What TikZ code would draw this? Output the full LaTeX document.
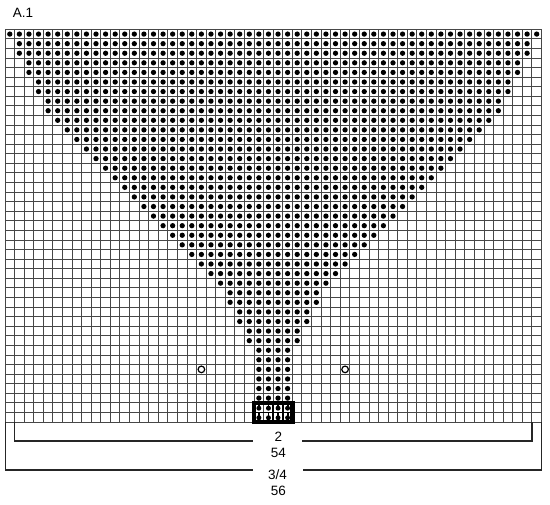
\documentclass[tikz,border=0pt]{standalone}
\usepackage{fontspec}
\setmainfont{Liberation Sans}
\begin{document}
\begin{tikzpicture}[x=1pt,y=-1pt,
  gridline/.style={draw=black!72, line width=1pt},
  purl/.style={fill=black, draw=none},
  yo/.style={draw=black, fill=white, line width=1.2pt},
  bracket/.style={draw=black!85, line width=1.3pt},
  boxline/.style={draw=black, line width=4.4pt},
  innerline/.style={draw=black, line width=1.8pt},
  lbl/.style={font=\fontsize{13.5}{15}\selectfont, inner sep=0pt}]
\useasboundingbox (0,0) rectangle (550,505);
\def\L{5}
\def\T{29.3}
\def\cs{9.58}
% grid
\foreach \i in {0,...,56}
  \draw[gridline] ({\L+\i*\cs},\T) -- ({\L+\i*\cs},{\T+41*\cs});
\foreach \j in {0,...,41}
  \draw[gridline] (\L,{\T+\j*\cs}) -- ({\L+56*\cs},{\T+\j*\cs});
% purl dots
\foreach \r/\s in {1/1,2/2,3/2,4/3,5/3,6/4,7/4,8/5,9/5,10/6,11/7,12/8,13/9,14/10,
  15/11,16/12,17/13,18/14,19/15,20/16,21/17,22/18,23/19,24/20,25/21,26/22,27/23,
  28/24,29/24,30/25,31/25,32/26,33/26,34/27,35/27,36/27,37/27,38/27,39/27} {
  \pgfmathtruncatemacro\e{57-\s}
  \foreach \c in {\s,...,\e}
    \fill[purl] ({\L+(\c-0.5)*\cs},{\T+(\r-0.5)*\cs}) circle (2.65);
}
% yarn overs
\draw[yo] ({\L+20.5*\cs},{\T+35.5*\cs}) circle (3.3);
\draw[yo] ({\L+35.5*\cs},{\T+35.5*\cs}) circle (3.3);
% special boxed cells
\foreach \r in {40,41} {
  \foreach \c in {27,...,30} {
    \draw[innerline] ({\L+(\c-0.5)*\cs},{\T+(\r-1)*\cs}) -- ({\L+(\c-0.5)*\cs},{\T+(\r-0.5)*\cs});
    \fill[purl] ({\L+(\c-0.5)*\cs},{\T+(\r-0.45)*\cs}) circle (2.5);
  }
}
\foreach \c in {28,29} \draw[innerline] ({\L+\c*\cs},{\T+39*\cs}) -- ({\L+\c*\cs},{\T+41*\cs});
\draw[innerline] ({\L+26*\cs},{\T+40*\cs}) -- ({\L+30*\cs},{\T+40*\cs});
\draw[boxline] ({\L+26*\cs},{\T+39*\cs}) rectangle ({\L+30*\cs},{\T+41*\cs});
% labels
\node[lbl] (title) at (23,12.5) {A.1};
\node[lbl] (n2) at (278.5,437) {2};
\node[lbl] (n54) at (278.5,452.5) {54};
\node[lbl] (n34) at (277.5,475) {3/4};
\node[lbl] (n56) at (278.5,491) {56};
% brackets
\coordinate (ia) at (14.6,422);
\coordinate (ib) at (14.6,441);
\coordinate (ic) at (253,441);
\coordinate (id) at (302,441);
\coordinate (ie) at (532,441);
\coordinate (if) at (532,422);
\draw[bracket] (ia) -- (ib) -- (ic);
\draw[bracket] (id) -- (ie) -- (if);
\coordinate (oa) at (5.3,422);
\coordinate (ob) at (5.3,470);
\coordinate (oc) at (253,470);
\coordinate (od) at (303,470);
\coordinate (oe) at (541.7,470);
\coordinate (of) at (541.7,422);
\draw[bracket] (oa) -- (ob) -- (oc);
\draw[bracket] (od) -- (oe) -- (of);
\end{tikzpicture}
\end{document}
